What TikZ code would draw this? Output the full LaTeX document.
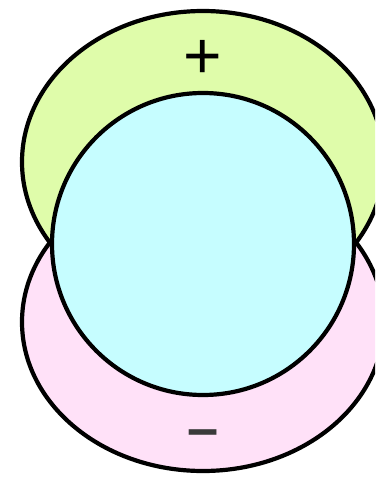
\documentclass[tikz,border=0pt]{standalone}
\usepackage{fontspec}
\setmainfont{Liberation Sans}
\definecolor{lobegreen}{HTML}{DFFCAA}
\definecolor{lobepink}{HTML}{FFE1F8}
\definecolor{corecyan}{HTML}{C6FDFF}
\definecolor{signgray}{HTML}{3A3A3A}
\tikzset{
  lobe/.style={draw=black, line width=4.2pt},
  plussign/.style={inner sep=0pt, font=\fontsize{66}{66}\selectfont},
  minussign/.style={inner sep=0pt, font=\bfseries\fontsize{56}{56}\selectfont}
}
\begin{document}
\begin{tikzpicture}[x=1pt,y=-1pt]
\useasboundingbox (0,0) rectangle (375,478);
\fill[white] (0,0) rectangle (375,478);
\begin{scope}
\clip (0,0) rectangle (375,478);
\draw[lobe, fill=lobegreen] (203,162) ellipse [x radius=181, y radius=151];
\draw[lobe, fill=lobepink] (203,322) ellipse [x radius=181, y radius=149];
\draw[lobe, fill=corecyan] (203,244) circle [radius=151];
\end{scope}
\node[plussign, text=black] (plus) at (203,59) {+};
\node[minussign, text=signgray] (minus) at (203,439) {\textendash};
\end{tikzpicture}
\end{document}
